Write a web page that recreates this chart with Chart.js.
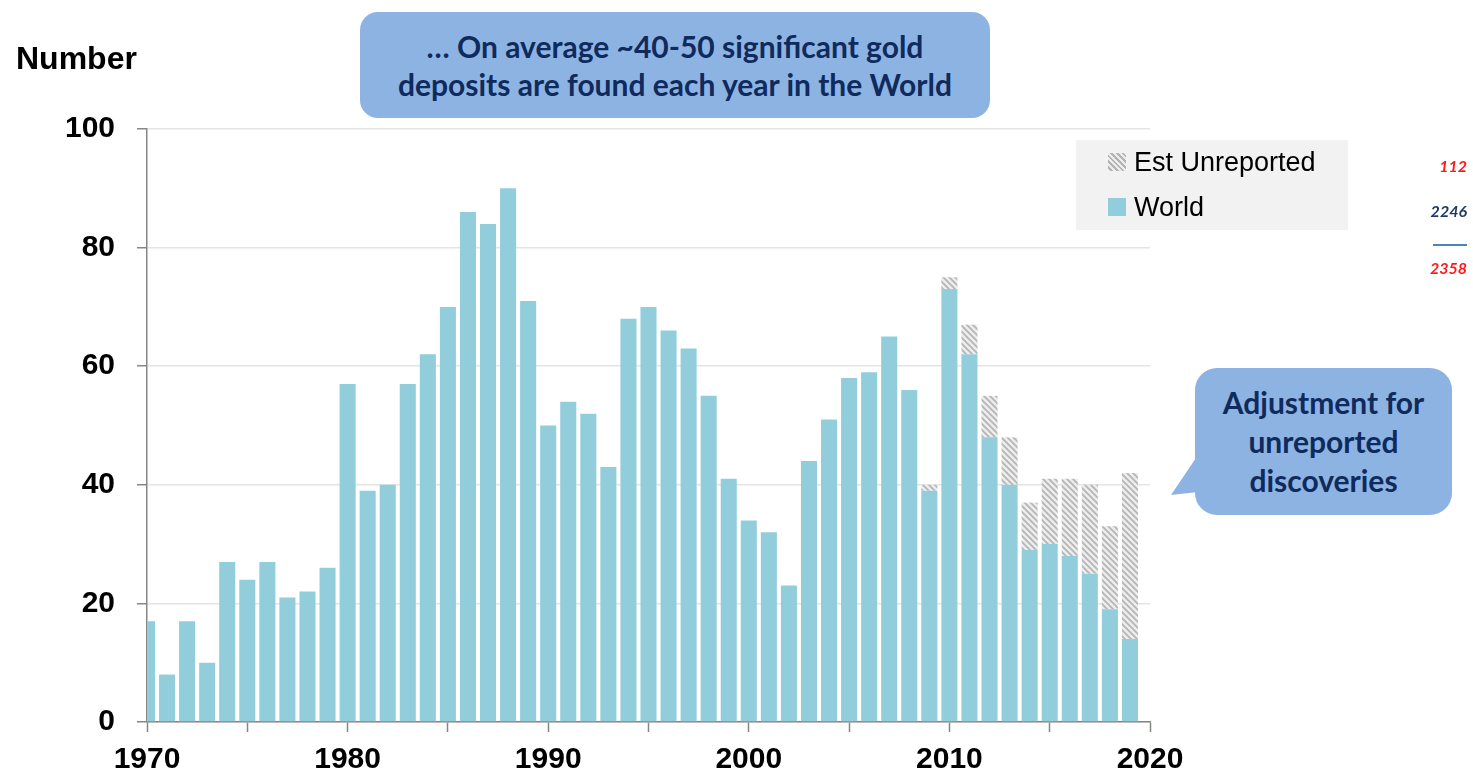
<!DOCTYPE html>
<html>
<head>
<meta charset="utf-8">
<script src="https://cdn.jsdelivr.net/npm/chart.js@4.4.0/dist/chart.umd.min.js"></script>
<style>
html,body{margin:0;padding:0;background:#fff;}
#wrap{position:relative;width:1473px;height:775px;overflow:hidden;font-family:"Liberation Sans",Arial,sans-serif;}
#c{position:absolute;left:0;top:0;}
#ytitle{position:absolute;left:16px;top:37px;font-weight:bold;font-size:32px;color:#000;line-height:42px;}
#note1{position:absolute;left:360px;top:12px;width:630px;height:106px;background:#8db3e2;border-radius:18px;
  color:#0f2a5c;font-family:Lato,"Open Sans",sans-serif;font-weight:bold;font-size:30px;line-height:38px;text-align:center;
  display:flex;align-items:center;justify-content:center;}
#note2{position:absolute;left:1195px;top:368px;width:257px;height:147px;background:#8db3e2;border-radius:22px;
  color:#0f2a5c;font-family:Lato,"Open Sans",sans-serif;font-weight:bold;font-size:30px;line-height:39px;text-align:center;
  display:flex;align-items:center;justify-content:center;}
#ptr{position:absolute;left:0;top:0;}
#legend{position:absolute;left:1076px;top:140px;width:272px;height:90px;background:#f2f2f2;}
.li{position:absolute;left:32px;height:32px;display:flex;align-items:center;font-size:27px;color:#000;white-space:nowrap;}
.sw{width:18px;height:18px;margin-right:8px;}
.tot{position:absolute;right:6px;font-family:Lato,"Open Sans",sans-serif;font-style:italic;font-weight:bold;font-size:16px;line-height:20px;text-align:right;}
#totline{position:absolute;left:1433px;top:244px;width:34px;height:2px;background:#4f81bd;}
</style>
</head>
<body>
<div id="wrap">
<canvas id="c" width="1473" height="775"></canvas>
<div id="ytitle">Number</div>
<div id="note1"><div>… On average ~40-50 significant gold<br>deposits are found each year in the World</div></div>
<svg id="ptr" width="1473" height="775"><polygon points="1198,455 1171,495 1198,492" fill="#8db3e2"/></svg>
<div id="note2"><div>Adjustment for<br>unreported<br>discoveries</div></div>
<div id="legend"></div>
<div class="tot" id="t1" style="top:156px;color:#ff1a1a;"></div>
<div class="tot" id="t2" style="top:201px;color:#1f3864;"></div>
<div id="totline"></div>
<div class="tot" id="t3" style="top:258px;color:#ff1a1a;"></div>
</div>
<script>
// ---- data ----
const years = [1970,1971,1972,1973,1974,1975,1976,1977,1978,1979,
               1980,1981,1982,1983,1984,1985,1986,1987,1988,1989,
               1990,1991,1992,1993,1994,1995,1996,1997,1998,1999,
               2000,2001,2002,2003,2004,2005,2006,2007,2008,2009,
               2010,2011,2012,2013,2014,2015,2016,2017,2018,2019];
const world = [17,8,17,10,27,24,27,21,22,26,
               57,39,40,57,62,70,86,84,90,71,
               50,54,52,43,68,70,66,63,55,41,
               34,32,23,44,51,58,59,65,56,39,
               73,62,48,40,29,30,28,25,19,14];
const unreportedYears = [2009,2010,2011,2012,2013,2014,2015,2016,2017,2018,2019];
const unreported = [1,2,5,7,8,8,11,13,15,14,28];
const xTicks = [1970,1975,1980,1985,1990,1995,2000,2005,2010,2015,2020];
const xLabels = [1970,1980,1990,2000,2010,2020];
const yTicks = [0,20,40,60,80,100];
const seriesNames = ['World','Est Unreported'];

// hatch pattern
function makeHatch(){
  const p=document.createElement('canvas'); p.width=6; p.height=6;
  const g=p.getContext('2d');
  g.fillStyle='#ececec'; g.fillRect(0,0,6,6);
  g.strokeStyle='#b3b3b3'; g.lineWidth=1.6;
  for(let k=-1;k<=1;k++){ g.beginPath(); g.moveTo(k*6-1,-1); g.lineTo(k*6+7,7); g.stroke(); }
  return document.getElementById('c').getContext('2d').createPattern(p,'repeat');
}
const hatch = makeHatch();
const blue = '#92cddc';

Chart.defaults.font.family = '"Liberation Sans", Arial, sans-serif';
Chart.defaults.color = '#000';

const chart = new Chart(document.getElementById('c'), {
  type: 'bar',
  data: {
    datasets: [
      { label: seriesNames[0], data: years.map((y,i)=>({x:y,y:world[i]})), backgroundColor: blue,
        borderWidth:0, barPercentage:1, categoryPercentage:0.8, clip:0 },
      { label: seriesNames[1], data: unreportedYears.map((y,i)=>({x:y,y:unreported[i]})), backgroundColor: hatch,
        borderWidth:0, barPercentage:1, categoryPercentage:0.8, clip:0 }
    ]
  },
  options: {
    responsive:false, animation:false, devicePixelRatio:1,
    layout:{ padding:{ top:129, right:323, bottom:0, left:0 } },
    plugins:{ legend:{display:false}, tooltip:{enabled:false} },
    scales:{
      x:{ type:'linear', stacked:true, min:1970, max:2020, offset:false,
          afterBuildTicks: s => { s.ticks = xTicks.map(v=>({value:v})); },
          afterFit: s => { s.height = 53; },
          grid:{ offset:false, drawOnChartArea:false, drawTicks:true, tickLength:10, tickColor:'#868686', tickWidth:1.5 },
          border:{ display:true, color:'#868686', width:1.5 },
          ticks:{ font:{size:30, weight:'bold'}, color:'#000', padding:10, maxRotation:0, autoSkip:false,
                  callback: v => xLabels.includes(v) ? String(v) : '' } },
      y:{ stacked:true, min:0, max:100,
          afterBuildTicks: s => { s.ticks = yTicks.map(v=>({value:v})); },
          afterFit: s => { s.width = 147; },
          grid:{ color:'#e4e4e4', lineWidth:1.5, drawTicks:true, tickLength:10, tickColor:'#868686' },
          border:{ display:true, color:'#868686', width:1.5 },
          ticks:{ font:{size:30, weight:'bold'}, color:'#000', padding:22 } }
    }
  }
});

// legend built from datasets (reverse order like the reference)
const leg = document.getElementById('legend');
[1,0].forEach((di,row)=>{
  const ds = chart.data.datasets[di];
  const item = document.createElement('div'); item.className='li'; item.style.top=(row===0?6:51)+'px';
  const sw = document.createElement('div'); sw.className='sw';
  sw.style.background = di===1 ? 'repeating-linear-gradient(45deg,#ececec 0 2px,#b3b3b3 2px 4px)' : blue;
  const tx = document.createElement('span'); tx.textContent = ds.label;
  item.appendChild(sw); item.appendChild(tx); leg.appendChild(item);
});

// totals
const sumU = unreported.reduce((a,b)=>a+b,0);
const sumW = world.reduce((a,b)=>a+b,0);
document.getElementById('t1').textContent = sumU;
document.getElementById('t2').textContent = sumW;
document.getElementById('t3').textContent = sumU + sumW;
</script>
</body>
</html>
